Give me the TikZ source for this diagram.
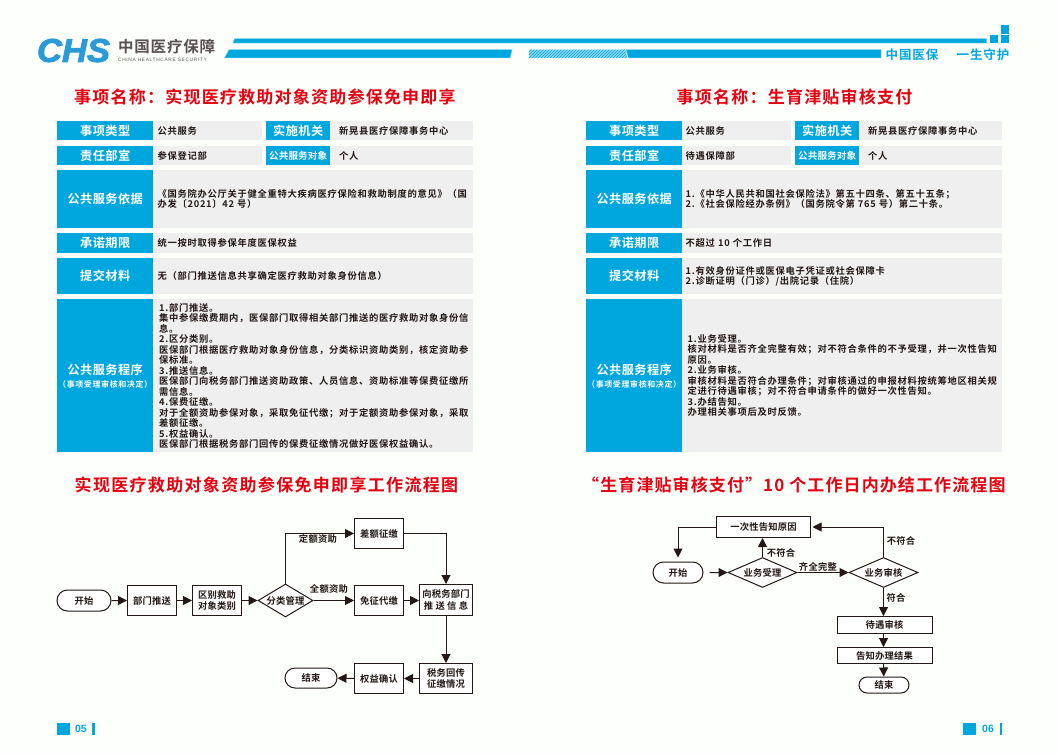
\documentclass[tikz,border=0pt]{standalone}
\usepackage{fontspec}
\setmainfont{Noto Sans CJK SC}[BoldFont={Noto Sans CJK SC Bold}]
\newfontfamily\latinfont{Liberation Sans}
\usetikzlibrary{positioning, arrows.meta, shapes.geometric, shapes.misc, patterns}
\newcommand{\sized}[3]{\fontsize{#1}{#2}\selectfont\addfontfeatures{LetterSpace=#3}}
\definecolor{chsblue}{HTML}{00A6DE}
\definecolor{chslogo}{HTML}{2A9BD8}
\definecolor{chsgray}{HTML}{EFEFEF}
\definecolor{chsred}{HTML}{E60012}
\definecolor{chsink}{HTML}{231815}
\definecolor{chspaper}{HTML}{FCFFFA}
\tikzset{
    labelcell/.style={fill=chsblue, text=white, anchor=north west, inner sep=0pt,
        minimum width=96pt, font=\bfseries\sized{12.2}{14}{3.5}},
    labelnarrow/.style={labelcell, minimum width=64pt},
    valuecell/.style={fill=chsgray, text=chsink, anchor=north west, inner ysep=0pt,
        inner xsep=3.5pt, align=left, font=\bfseries\sized{9.3}{10.5}{7.5}},
    flowbox/.style={draw=chsink, line width=1pt, fill=white, text=chsink, inner sep=0pt,
        anchor=north west, align=center, font=\bfseries\sized{9.3}{13}{2.5}},
    flowend/.style={flowbox, rounded rectangle, anchor=center},
    flowdiamond/.style={flowbox, diamond, anchor=center},
    flowline/.style={draw=chsink, line width=1pt, -{Triangle[length=9pt,width=9pt]}},
    flowtext/.style={text=chsink, inner sep=0pt, font=\bfseries\sized{9.3}{10}{3}},
    titletext/.style={text=chsred, inner sep=0pt, font=\bfseries\sized{17}{19}{7.2}},
    pagenum/.style={text=chsblue, inner sep=0pt, font=\latinfont\bfseries\fontsize{10.5}{12}\selectfont},
    headbar/.style={fill=chsblue, draw=chsblue!55, line width=0.4pt},
}
\begin{document}
\begin{tikzpicture}[x=1pt,y=-1pt]
    \fill[chspaper] (0,0) rectangle (1058,755);
    \useasboundingbox (0,0) rectangle (1058,755);
    % page head
    \node[text=chslogo, inner sep=0pt] (logo) at (73.5,50.5)
        {\resizebox{73pt}{23pt}{\latinfont\bfseries\itshape\addfontfeatures{FakeBold=2.5}CHS}};
    \node[text=chsink!75, inner sep=0pt, anchor=west, font=\bfseries\sized{15.5}{17}{5}] (brand) at (118,46.5) {中国医疗保障};
    \node[text=chsink!75, inner sep=0pt, anchor=west, font=\latinfont\fontsize{4.8}{5}\selectfont\addfontfeatures{LetterSpace=14}] (brandeng) at (118,59.5) {CHINA HEALTHCARE SECURITY};
    \filldraw[headbar] (234.5,38.5) -- (986.5,38.5) -- (986.5,43) -- (233,43) -- cycle;
    \filldraw[headbar] (229,49.7) -- (512,49.7) -- (510,57.8) -- (224.5,57.8) -- cycle;
    \fill[chsblue!45] (529,49.7) -- (625,49.7) -- (627.5,57.8) -- (529,57.8) -- cycle;
    \fill[pattern=north east lines, pattern color=chsblue] (529,49.7) -- (625,49.7) -- (627.5,57.8) -- (529,57.8) -- cycle;
    \filldraw[headbar] (626,49.7) -- (881,49.7) -- (881,57.8) -- (628.5,57.8) -- cycle;
    \fill[chsblue] (989.5,35) rectangle (998,42.8);
    \fill[chsblue] (1000.7,35) rectangle (1009,42.8);
    \fill[chsblue] (1000.7,25) rectangle (1009,33.5);
    \node[text=chsblue, inner sep=0pt, anchor=west, font=\bfseries\sized{12.5}{14}{7}] (motto) at (885.5,54.5) {中国医保};
    \node[text=chsblue, inner sep=0pt, anchor=east, font=\bfseries\sized{12.5}{14}{7}] (mottob) at (1009.5,54.5) {一生守护};

    % left page, table
    \node[titletext, anchor=west] (titleA) at (74,97) {事项名称：实现医疗救助对象资助参保免申即享};
    \node[labelcell, minimum height=19pt] (typeA) at (57,121) {事项类型};
    \node[valuecell, text width=101pt, minimum height=19pt] (typevalA) at (154,121) {公共服务};
    \node[labelnarrow, minimum height=19pt] (orgA) at (266,121) {实施机关};
    \node[valuecell, inner xsep=8pt, text width=126pt, minimum height=19pt] (orgvalA) at (331,121) {新晃县医疗保障事务中心};
    \node[labelcell, minimum height=19pt] (deptA) at (57,146) {责任部室};
    \node[valuecell, text width=101pt, minimum height=19pt] (deptvalA) at (154,146) {参保登记部};
    \node[labelnarrow, minimum height=19pt, font=\bfseries\sized{9.6}{11}{1}] (userA) at (266,146) {公共服务对象};
    \node[valuecell, inner xsep=8pt, text width=126pt, minimum height=19pt] (uservalA) at (331,146) {个人};
    \node[labelcell, minimum height=58pt] (baseA) at (57,170) {公共服务依据};
    \node[valuecell, text width=312pt, minimum height=58pt] (basevalA) at (154,170)
        {《国务院办公厅关于健全重特大疾病医疗保险和救助制度的意见》（国\\办发〔2021〕42 号）};
    \node[labelcell, minimum height=20pt] (limitA) at (57,233) {承诺期限};
    \node[valuecell, text width=312pt, minimum height=20pt] (limitvalA) at (154,233) {统一按时取得参保年度医保权益};
    \node[labelcell, minimum height=36pt] (fileA) at (57,258) {提交材料};
    \node[valuecell, text width=312pt, minimum height=36pt] (filevalA) at (154,258) {无（部门推送信息共享确定医疗救助对象身份信息）};
    \node[labelcell, minimum height=153pt, align=center] (procA) at (57,299)
        {公共服务程序\\[-1pt]{\sized{8}{9}{7.5}（事项受理审核和决定）}};
    \node[valuecell, inner xsep=5pt, text width=309pt, minimum height=153pt] (procvalA) at (154,299)
        {1.部门推送。\\
        集中参保缴费期内，医保部门取得相关部门推送的医疗救助对象身份信\\
        息。\\
        2.区分类别。\\
        医保部门根据医疗救助对象身份信息，分类标识资助类别，核定资助参\\
        保标准。\\
        3.推送信息。\\
        医保部门向税务部门推送资助政策、人员信息、资助标准等保费征缴所\\
        需信息。\\
        4.保费征缴。\\
        对于全额资助参保对象，采取免征代缴；对于定额资助参保对象，采取\\
        差额征缴。\\
        5.权益确认。\\
        医保部门根据税务部门回传的保费征缴情况做好医保权益确认。};

    % right page, table
    \node[titletext, anchor=west] (titleB) at (676.5,97) {事项名称：生育津贴审核支付};
    \node[labelcell, minimum height=19pt] (typeB) at (586,121) {事项类型};
    \node[valuecell, text width=102pt, minimum height=19pt] (typevalB) at (682,121) {公共服务};
    \node[labelnarrow, minimum height=19pt] (orgB) at (795,121) {实施机关};
    \node[valuecell, inner xsep=8pt, text width=126pt, minimum height=19pt] (orgvalB) at (860,121) {新晃县医疗保障事务中心};
    \node[labelcell, minimum height=19pt] (deptB) at (586,146) {责任部室};
    \node[valuecell, text width=102pt, minimum height=19pt] (deptvalB) at (682,146) {待遇保障部};
    \node[labelnarrow, minimum height=19pt, font=\bfseries\sized{9.6}{11}{1}] (userB) at (795,146) {公共服务对象};
    \node[valuecell, inner xsep=8pt, text width=126pt, minimum height=19pt] (uservalB) at (860,146) {个人};
    \node[labelcell, minimum height=58pt] (baseB) at (586,170) {公共服务依据};
    \node[valuecell, text width=313pt, minimum height=58pt] (basevalB) at (682,170)
        {1.《中华人民共和国社会保险法》第五十四条、第五十五条；\\
        2.《社会保险经办条例》（国务院令第 765 号）第二十条。};
    \node[labelcell, minimum height=20pt] (limitB) at (586,233) {承诺期限};
    \node[valuecell, text width=313pt, minimum height=20pt] (limitvalB) at (682,233) {不超过 10 个工作日};
    \node[labelcell, minimum height=36pt] (fileB) at (586,258) {提交材料};
    \node[valuecell, text width=313pt, minimum height=36pt] (filevalB) at (682,258)
        {1.有效身份证件或医保电子凭证或社会保障卡\\
        2.诊断证明（门诊）/出院记录（住院）};
    \node[labelcell, minimum height=153pt, align=center] (procB) at (586,299)
        {公共服务程序\\[-1pt]{\sized{8}{9}{7.5}（事项受理审核和决定）}};
    \node[valuecell, inner xsep=5.5pt, text width=309pt, minimum height=153pt] (procvalB) at (682,299)
        {1.业务受理。\\
        核对材料是否齐全完整有效；对不符合条件的不予受理，并一次性告知\\
        原因。\\
        2.业务审核。\\
        审核材料是否符合办理条件；对审核通过的申报材料按统筹地区相关规\\
        定进行待遇审核；对不符合申请条件的做好一次性告知。\\
        3.办结告知。\\
        办理相关事项后及时反馈。};

    % left flow chart
    \node[titletext, anchor=west, font=\bfseries\sized{17}{19}{7.8}] (flowtitleA) at (74.5,484.5) {实现医疗救助对象资助参保免申即享工作流程图};
    \node[flowend, minimum width=54pt, minimum height=21pt] (startA) at (84,600.5) {开始};
    \node[flowbox, minimum width=49pt, minimum height=30pt] (pushA) at (127,585) {部门推送};
    \node[flowbox, minimum width=49pt, minimum height=30pt] (kindA) at (192,585) {区别救助\\[-1.5pt]对象类别};
    \node[flowdiamond, aspect=1.67, minimum width=55pt, minimum height=33pt] (sortA) at (285.5,600.5) {分类管理};
    \node[flowbox, minimum width=49pt, minimum height=30pt] (diffA) at (354,518) {差额征缴};
    \node[flowbox, minimum width=49pt, minimum height=30pt] (freeA) at (354,585) {免征代缴};
    \node[flowbox, minimum width=53pt, minimum height=31pt] (taxA) at (419,584) {向税务部门\\[-1.5pt]推 送 信 息};
    \node[flowbox, minimum width=53pt, minimum height=30pt] (backA) at (419,663) {税务回传\\[-1.5pt]征缴情况};
    \node[flowbox, minimum width=49pt, minimum height=30pt] (rightA) at (354,663) {权益确认};
    \node[flowend, minimum width=52pt, minimum height=20pt] (endA) at (311,678) {结束};
    \node[flowtext] (fixedA) at (318,539) {定额资助};
    \node[flowtext] (fullA) at (329,589) {全额资助};
    \draw[flowline] (startA) -- (pushA);
    \draw[flowline] (pushA) -- (kindA);
    \draw[flowline] (kindA) -- (sortA);
    \draw[flowline] (sortA.north) |- (diffA.west);
    \draw[flowline] (sortA) -- (freeA);
    \draw[flowline] (diffA.east) -| (taxA.north);
    \draw[flowline] (freeA) -- (taxA.west |- freeA);
    \draw[flowline] (taxA) -- (backA);
    \draw[flowline] (backA) -- (rightA);
    \draw[flowline] (rightA) -- (endA);

    % right flow chart
    \node[titletext, anchor=west, font=\bfseries\sized{17}{19}{6.5}] (flowtitleB) at (582,484.5) {“生育津贴审核支付”10 个工作日内办结工作流程图};
    \node[flowbox, minimum width=94pt, minimum height=21pt] (noticeB) at (716,516) {一次性告知原因};
    \node[flowend, minimum width=50pt, minimum height=21pt] (startB) at (678,572.5) {开始};
    \node[flowdiamond, aspect=2.3, minimum width=69pt, minimum height=30pt] (acceptB) at (762.5,572.5) {业务受理};
    \node[flowdiamond, aspect=2.3, minimum width=69pt, minimum height=30pt] (checkB) at (883.5,572.5) {业务审核};
    \node[flowbox, minimum width=95pt, minimum height=17pt] (treatB) at (836.5,616) {待遇审核};
    \node[flowbox, minimum width=95pt, minimum height=16pt] (tellB) at (836.5,647) {告知办理结果};
    \node[flowend, minimum width=50pt, minimum height=16pt] (endB) at (884,685) {结束};
    \node[flowtext] (noA) at (781,552.5) {不符合};
    \node[flowtext] (okB) at (818,566.5) {齐全完整};
    \node[flowtext] (noB) at (901,541) {不符合};
    \node[flowtext] (yesB) at (896,598) {符合};
    \draw[flowline, shorten >=4pt] (noticeB.west) -| (startB.north);
    \draw[flowline, shorten <=6pt] (startB) -- (acceptB);
    \draw[flowline] (acceptB) -- (acceptB |- noticeB.south);
    \draw[flowline] (acceptB) -- (checkB);
    \draw[flowline, shorten >=1.5pt] (checkB.north) |- (noticeB.east);
    \draw[flowline] (checkB) -- (checkB |- treatB.north);
    \draw[flowline] (checkB |- treatB.south) -- (checkB |- tellB.north);
    \draw[flowline] (checkB |- tellB.south) -- (endB);

    % page numbers
    \fill[chsblue] (57.3,723) rectangle (69.5,735);
    \node[pagenum] (numA) at (81,729) {05};
    \fill[chsblue] (92.3,723) rectangle (94.7,735);
    \fill[chsblue] (963.3,723) rectangle (975.7,735);
    \node[pagenum] (numB) at (988,729) {06};
    \fill[chsblue] (999.5,723) rectangle (1002,735);
\end{tikzpicture}
\end{document}
